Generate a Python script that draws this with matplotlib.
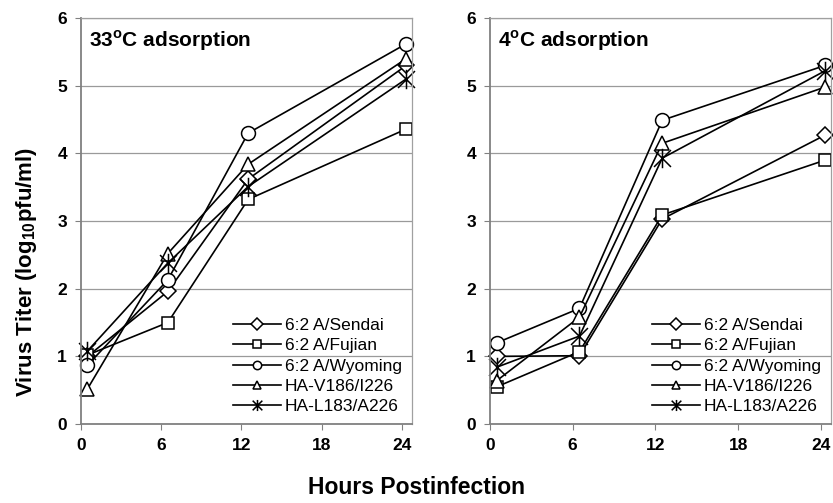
import numpy as np
import matplotlib
matplotlib.use("Agg")
import matplotlib.pyplot as plt
from matplotlib.path import Path

plt.rcParams['font.family'] = ['Liberation Sans', 'DejaVu Sans']
plt.rcParams['mathtext.fontset'] = 'custom'
plt.rcParams['mathtext.rm'] = 'Liberation Sans'
plt.rcParams['mathtext.bf'] = 'Liberation Sans:bold'

hours = [0.5, 6.5, 12.5, 24.3]
labels = ['6:2 A/Sendai', '6:2 A/Fujian', '6:2 A/Wyoming', 'HA-V186/I226', 'HA-L183/A226']
xticks = [0, 6, 12, 18, 24]

# 33C adsorption
warm = {
    '6:2 A/Sendai':  [1.0, 1.96, 3.62, 5.3],
    '6:2 A/Fujian':  [1.02, 1.5, 3.32, 4.36],
    '6:2 A/Wyoming': [0.87, 2.13, 4.3, 5.62],
    'HA-V186/I226':  [0.52, 2.52, 3.84, 5.4],
    'HA-L183/A226':  [1.08, 2.38, 3.51, 5.1],
}
# 4C adsorption
cold = {
    '6:2 A/Sendai':  [1.0, 1.01, 3.03, 4.27],
    '6:2 A/Fujian':  [0.55, 1.07, 3.09, 3.9],
    '6:2 A/Wyoming': [1.2, 1.71, 4.49, 5.3],
    'HA-V186/I226':  [0.64, 1.58, 4.15, 4.98],
    'HA-L183/A226':  [0.84, 1.3, 3.93, 5.22],
}

# excel style star: X with a vertical bar
star = Path([(-1, -1), (1, 1), (-1, 1), (1, -1), (0, -1.15), (0, 1.15)],
            [Path.MOVETO, Path.LINETO, Path.MOVETO, Path.LINETO, Path.MOVETO, Path.LINETO])
markers = {'6:2 A/Sendai': ('D', 8), '6:2 A/Fujian': ('s', 9), '6:2 A/Wyoming': ('o', 10),
           'HA-V186/I226': ('^', 10), 'HA-L183/A226': (star, 14)}

fig = plt.figure(figsize=(8.33, 5.03), dpi=100)
ax1 = fig.add_axes([0.097, 0.157, 0.397, 0.807])
ax2 = fig.add_axes([0.588, 0.157, 0.409, 0.807])


def panel(ax, data, title):
    ax.yaxis.grid(True, color='#9a9a9a', lw=0.9)
    ax.set_axisbelow(True)
    for name in labels:
        m, ms = markers[name]
        ax.plot(hours, data[name], color='black', lw=1.2, marker=m, ms=ms,
                mfc='white', mec='black', mew=1.1, label=name, clip_on=False)
    ax.set_xlim(0, 24.7)
    ax.set_ylim(0, 6)
    ax.set_xticks(xticks)
    ax.set_yticks(range(7))
    ax.tick_params(labelsize=12.5, length=4, color='#808080', pad=6)
    for t in ax.get_xticklabels() + ax.get_yticklabels():
        t.set_fontweight('bold')
    for s in ['top', 'right']:
        ax.spines[s].set_color('#a0a0a0')
        ax.spines[s].set_linewidth(0.9)
    for s in ['left', 'bottom']:
        ax.spines[s].set_color('#808080')
        ax.spines[s].set_linewidth(1.3)
    ax.text(0.025, 0.975, title, transform=ax.transAxes, ha='left', va='top',
            fontsize=15, fontweight='bold')
    leg = ax.legend(loc='lower right', frameon=False, fontsize=12.5, handlelength=2.8,
                    handletextpad=0.2, labelspacing=0.3, borderaxespad=0.15)
    for h, name in zip(leg.legend_handles, labels):
        h.set_markersize(8 if name == 'HA-L183/A226' else 6)


panel(ax1, warm, r'33$^{\mathbf{o}}$C adsorption')
panel(ax2, cold, r'4$^{\mathbf{o}}$C adsorption')

fig.text(0.032, 0.46, r'Virus Titer (log$_{\mathbf{10}}$pfu/ml)', rotation=90,
         ha='center', va='center', fontsize=16, fontweight='bold')
fig.text(0.5, 0.03, 'Hours Postinfection', ha='center', va='center',
         fontsize=16.5, fontweight='bold')

fig.savefig('out.png', dpi=100)
